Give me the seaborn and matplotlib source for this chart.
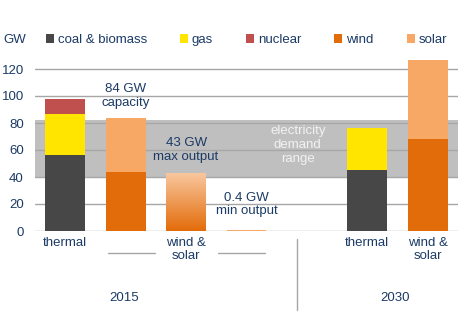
import numpy as np
import pandas as pd
import seaborn as sns
import matplotlib.pyplot as plt
from matplotlib.patches import Patch
from matplotlib.colors import LinearSegmentedColormap

sns.set_theme(style="white")
plt.rcParams['font.family'] = ['Liberation Sans', 'DejaVu Sans']

# ---- data ----
slots = ["th15", "cap15", "max15", "min15", "gap", "th30", "ws30"]
tick_labels = ["thermal", "", "wind &\nsolar", "", "", "thermal", "wind &\nsolar"]
coal = [56.5, 0, 0, 0, 0, 45, 0]
gas = [30, 0, 0, 0, 0, 31, 0]
nuclear = [11, 0, 0, 0, 0, 0, 0]
wind = [0, 44, 0, 0, 0, 0, 68]
solar = [0, 40, 0, 0.4, 0, 0, 59]
max_output = [0, 0, 43, 0, 0, 0, 0]
demand_range = (40, 82)
years = ["2015", "2030"]
series_names = ["coal & biomass", "gas", "nuclear", "wind", "solar"]
colors = ["#474747", "#ffe500", "#c0504d", "#e36c0a", "#f7a864"]
txt = "#1b3a66"

fig = plt.figure(figsize=(4.74, 3.35), dpi=100)
ax = fig.add_axes([35/474, (335-231)/335, 423/474, 175.5/335])

layers = [coal, gas, nuclear, wind, solar]
cum = np.cumsum(np.array(layers), axis=0)
df = pd.DataFrame({"slot": slots})
# draw from top layer down so lower layers cover upper cumulative bars
for i in range(len(layers) - 1, -1, -1):
    d = df.copy()
    d["v"] = cum[i]
    d = d[np.array(layers[i]) > 0]
    sns.barplot(data=d, x="slot", y="v", order=slots, color=colors[i],
                width=0.66, saturation=1, ax=ax, zorder=3, edgecolor="none")

# gradient bar (max output)
dm = pd.DataFrame({"slot": slots, "v": max_output})
dm = dm[dm["v"] > 0]
n_before = len(ax.patches)
sns.barplot(data=dm, x="slot", y="v", order=slots, color=colors[3],
            width=0.66, saturation=1, ax=ax, zorder=3, edgecolor="none")
grad_cmap = LinearSegmentedColormap.from_list("g", ["#e36c0a", "#f9c8a0"])
for p in ax.patches[n_before:]:
    if p.get_height() > 0:
        x0, y0 = p.get_x(), p.get_y()
        w, h = p.get_width(), p.get_height()
        im = ax.imshow(np.linspace(0, 1, 100).reshape(-1, 1), cmap=grad_cmap,
                       extent=[x0, x0 + w, y0, y0 + h], origin="lower",
                       aspect="auto", zorder=4)
        im.set_clip_path(p)

ax.set_xlim(-0.5, len(slots) - 0.5)
ax.set_ylim(0, 130)
ax.axhspan(demand_range[0], demand_range[1], color="#bfbfbf", zorder=1, lw=0)
ax.set_yticks(range(0, 121, 20))
ax.yaxis.grid(True, color="#a6a6a6", lw=1, zorder=2)
ax.set_axisbelow(False)
for s in ax.spines.values():
    s.set_visible(False)
ax.set_xticks(range(len(slots)))
ax.set_xticklabels(tick_labels, color=txt, fontsize=9.5, linespacing=1.15)
ax.tick_params(axis="x", length=0, pad=4)
ax.tick_params(axis="y", length=0, pad=8, labelcolor=txt, labelsize=9.5)
ax.set_xlabel("")
ax.set_ylabel("")
ax.set_title("")

# annotations
ax.text(1, 100, "84 GW\ncapacity", ha="center", va="center", color=txt, fontsize=9.5, zorder=6)
ax.text(2, 60, "43 GW\nmax output", ha="center", va="center", color=txt, fontsize=9.5, zorder=6)
ax.text(3, 19.6, "0.4 GW\nmin output", ha="center", va="center", color=txt, fontsize=9.5, zorder=6)
ax.text(3.85, 63.7, "electricity\ndemand\nrange", ha="center", va="center",
        color="#f2f2f2", fontsize=9.5, zorder=6)

tr = ax.get_xaxis_transform()
for xa, xb in [(0.71, 1.49), (2.53, 3.31)]:
    ax.plot([xa, xb], [-0.125, -0.125], color="#a6a6a6", lw=1, transform=tr, clip_on=False)
ax.plot([3.84, 3.84], [-0.046, -0.45], color="#a6a6a6", lw=1, transform=tr, clip_on=False)
ax.text(0.98, -0.38, years[0], ha="center", va="center", color=txt, fontsize=9.5, transform=tr)
ax.text(5.46, -0.38, years[1], ha="center", va="center", color=txt, fontsize=9.5, transform=tr)

# legend
fig.text(3/474, 1 - 40/335, "GW", ha="left", va="center", color=txt, fontsize=9.5)
handles = [Patch(facecolor=c, edgecolor="none", label=n) for c, n in zip(colors, series_names)]
leg = fig.legend(handles=handles, ncol=5, loc="center left",
                 bbox_to_anchor=(46/474, 1 - 40/335), frameon=False,
                 fontsize=9.5, handlelength=0.6, handleheight=0.6,
                 handletextpad=0.3, columnspacing=2.5, borderpad=0, borderaxespad=0)
for t in leg.get_texts():
    t.set_color(txt)

fig.savefig("out.png", dpi=100)
